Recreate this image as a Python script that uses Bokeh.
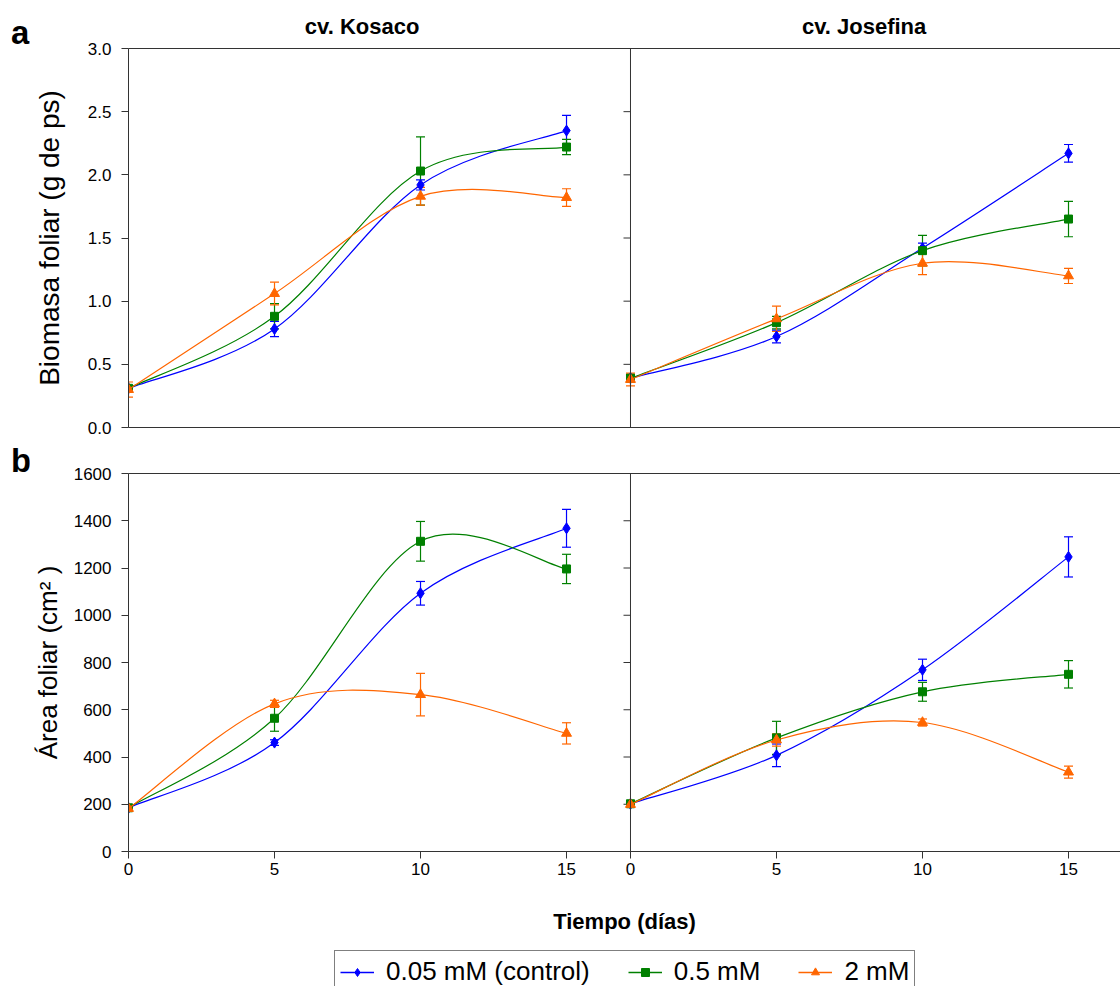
import math
from bokeh.plotting import figure
from bokeh.layouts import column, row
from bokeh.models import (Range1d, LinearAxis, FixedTicker, Span, Whisker, TeeHead, Div,
                          ColumnDataSource, Legend, LegendItem, PrintfTickFormatter)
from bokeh.embed import file_html
from bokeh.resources import INLINE

# ---- data -------------------------------------------------------------
days = [0, 5, 10, 15]
series_labels = ["0.05 mM (control)", "0.5 mM", "2 mM"]
panel_titles = ["cv. Kosaco", "cv. Josefina"]

# leaf biomass (g dry weight), cv. Kosaco
bio_kos_005 = [0.31, 0.78, 1.92, 2.35]
bio_kos_005_err = [0.02, 0.06, 0.04, 0.12]
bio_kos_05 = [0.31, 0.88, 2.03, 2.22]
bio_kos_05_err = [0.02, 0.10, 0.27, 0.06]
bio_kos_2 = [0.30, 1.06, 1.83, 1.82]
bio_kos_2_err = [0.06, 0.09, 0.07, 0.07]

# leaf biomass (g dry weight), cv. Josefina
bio_jos_005 = [0.39, 0.72, 1.42, 2.17]
bio_jos_005_err = [0.02, 0.05, 0.04, 0.07]
bio_jos_05 = [0.39, 0.83, 1.40, 1.65]
bio_jos_05_err = [0.03, 0.05, 0.12, 0.14]
bio_jos_2 = [0.38, 0.86, 1.30, 1.20]
bio_jos_2_err = [0.05, 0.10, 0.09, 0.06]

# leaf area (cm2), cv. Kosaco
area_kos_005 = [185, 461, 1093, 1368]
area_kos_005_err = [8, 12, 50, 80]
area_kos_05 = [185, 564, 1313, 1196]
area_kos_05_err = [8, 55, 84, 62]
area_kos_2 = [182, 625, 664, 500]
area_kos_2_err = [10, 15, 90, 45]

# leaf area (cm2), cv. Josefina
area_jos_005 = [202, 407, 769, 1247]
area_jos_005_err = [5, 48, 45, 85]
area_jos_05 = [202, 481, 676, 750]
area_jos_05_err = [5, 70, 40, 58]
area_jos_2 = [199, 472, 546, 336]
area_jos_2_err = [8, 26, 15, 25]

bio_ticks = [0.0, 0.5, 1.0, 1.5, 2.0, 2.5, 3.0]
area_ticks = [0, 200, 400, 600, 800, 1000, 1200, 1400, 1600]

# ---- styling / geometry ----------------------------------------------
FONT = "Liberation Sans"
COLORS = ["#0000FF", "#008000", "#FF6600"]
MARKERS = [("diamond", 11), ("square", 8), ("triangle", 10)]
AXIS_COLOR = "#333333"

PAGE_W = 1120
GUTTER = 29                # strip on the left holding the panel letters
W = PAGE_W - GUTTER        # width of the chart figures
FRAME_X = 126              # page x of the frames' left edge
LEFT = FRAME_X - GUTTER    # same, inside a figure
DAY_PX = 146.3 / 5         # pixels per day on the time axis
X_END = (W - LEFT) / DAY_PX
PANEL = 503 / DAY_PX       # width of one cultivar panel, in days
TITLE_X = 8.0              # centre of the cultivar names, in days


def smooth_segments(xs, ys):
    """Cubic Bezier pieces through the points (Catmull-Rom style tangents)."""
    n = len(xs)
    px = [xs[0]] + list(xs) + [xs[-1]]
    py = [ys[0]] + list(ys) + [ys[-1]]
    out = dict(x0=[], y0=[], x1=[], y1=[], cx0=[], cy0=[], cx1=[], cy1=[])
    for i in range(n - 1):
        p0x, p0y = px[i], py[i]
        p1x, p1y = px[i + 1], py[i + 1]
        p2x, p2y = px[i + 2], py[i + 2]
        p3x, p3y = px[i + 3], py[i + 3]
        out["x0"].append(p1x); out["y0"].append(p1y)
        out["x1"].append(p2x); out["y1"].append(p2y)
        out["cx0"].append(p1x + (p2x - p0x) / 6.0)
        out["cy0"].append(p1y + (p2y - p0y) / 6.0)
        out["cx1"].append(p2x - (p3x - p1x) / 6.0)
        out["cy1"].append(p2y - (p3y - p1y) / 6.0)
    return out


def draw_series(p, ys, errs, k, range_name):
    color = COLORS[k]
    marker, size = MARKERS[k]
    seg = ColumnDataSource(smooth_segments(days, ys))
    p.bezier(x0="x0", y0="y0", x1="x1", y1="y1", cx0="cx0", cy0="cy0",
             cx1="cx1", cy1="cy1", source=seg, line_color=color,
             line_width=1.2, x_range_name=range_name)
    esrc = ColumnDataSource(dict(x=days,
                                 upper=[y + e for y, e in zip(ys, errs)],
                                 lower=[y - e for y, e in zip(ys, errs)]))
    p.add_layout(Whisker(source=esrc, base="x", upper="upper", lower="lower",
                         line_color=color, line_width=1.2,
                         upper_head=TeeHead(size=9, line_color=color, line_width=1.2),
                         lower_head=TeeHead(size=9, line_color=color, line_width=1.2),
                         x_range_name=range_name))
    p.scatter(days, ys, marker=marker, size=size, fill_color=color,
              line_color=color, x_range_name=range_name)


def bare_axis(ax):
    ax.ticker = FixedTicker(ticks=[])
    ax.axis_line_color = AXIS_COLOR
    ax.major_tick_out = 0
    ax.major_tick_in = 0
    ax.minor_tick_out = 0
    ax.minor_tick_in = 0
    ax.major_label_text_font_size = "0px"


def make_panel_row(height, top, bottom, y_max, y_ticks, y_fmt, y_title,
                   title_size, title_standoff):
    p = figure(width=W, height=height, x_range=Range1d(0, X_END),
               y_range=Range1d(0, y_max), output_backend="svg",
               toolbar_location=None, min_border_left=LEFT, min_border_right=0,
               min_border_top=top, min_border_bottom=bottom)
    p.extra_x_ranges = {"jos": Range1d(-PANEL, X_END - PANEL)}
    p.outline_line_color = None
    p.xgrid.visible = False
    p.ygrid.visible = False
    p.background_fill_color = "white"
    p.border_fill_color = "white"

    ya = p.left[0]
    ya.ticker = FixedTicker(ticks=y_ticks)
    if y_fmt:
        ya.formatter = PrintfTickFormatter(format=y_fmt)
    ya.major_tick_out = 7
    ya.major_tick_in = 0
    ya.minor_tick_out = 0
    ya.minor_tick_in = 0
    ya.major_label_standoff = 10
    ya.major_label_text_font = FONT
    ya.major_label_text_font_size = "17px"
    ya.major_label_text_color = "black"
    ya.axis_line_color = AXIS_COLOR
    ya.major_tick_line_color = AXIS_COLOR
    ya.axis_label = y_title
    ya.axis_label_text_font = FONT
    ya.axis_label_text_font_size = title_size
    ya.axis_label_text_font_style = "normal"
    ya.axis_label_text_color = "black"
    ya.axis_label_standoff = title_standoff

    top_axis = LinearAxis()
    bare_axis(top_axis)
    p.add_layout(top_axis, "above")

    # boundary between cultivars, ticks pointing into the left panel
    p.add_layout(Span(location=0, dimension="height", x_range_name="jos",
                      line_color=AXIS_COLOR, line_width=1))
    inner = y_ticks[1:-1]
    p.segment(x0=[-7 / DAY_PX] * len(inner), x1=[0] * len(inner), y0=inner, y1=inner,
              x_range_name="jos", line_color=AXIS_COLOR, line_width=1)
    return p, p.below[0], top_axis


# ---- leaf biomass --------------------------------------------------------
p_top, xa, top_axis = make_panel_row(450, 48, 23, 3.0, bio_ticks, "%.1f",
                                     "Biomasa foliar (g de ps)", "28px", 20)
bare_axis(xa)

# cultivar names sit on the upper frame line
name_ticks = [TITLE_X, PANEL + TITLE_X]
top_axis.ticker = FixedTicker(ticks=name_ticks)
top_axis.major_label_overrides = {t: s for t, s in zip(name_ticks, panel_titles)}
top_axis.major_label_text_font_size = "22px"
top_axis.major_label_text_font = FONT
top_axis.major_label_text_font_style = "bold"
top_axis.major_label_text_color = "black"
top_axis.major_label_standoff = 10

top_sets = [
    ("default", [(bio_kos_005, bio_kos_005_err), (bio_kos_05, bio_kos_05_err), (bio_kos_2, bio_kos_2_err)]),
    ("jos", [(bio_jos_005, bio_jos_005_err), (bio_jos_05, bio_jos_05_err), (bio_jos_2, bio_jos_2_err)]),
]
for rname, sets in top_sets:
    for k, (ys, es) in enumerate(sets):
        draw_series(p_top, ys, es, k, rname)

# ---- leaf area ----------------------------------------------------------
p_bot, xb, _ = make_panel_row(490, 23, 89, 1600, area_ticks, None,
                              "Área foliar (cm² )", "26px", 8)
tick_pos = list(days) + [PANEL + d for d in days]
xb.ticker = FixedTicker(ticks=tick_pos)
xb.major_label_overrides = {t: str(d) for t, d in zip(tick_pos, days + days)}
xb.major_tick_out = 7
xb.major_tick_in = 0
xb.minor_tick_out = 0
xb.minor_tick_in = 0
xb.major_label_standoff = 4
xb.major_label_text_font = FONT
xb.major_label_text_font_size = "17px"
xb.major_label_text_color = "black"
xb.axis_line_color = AXIS_COLOR
xb.major_tick_line_color = AXIS_COLOR
xb.axis_label = "Tiempo (días)"
xb.axis_label_text_font = FONT
xb.axis_label_text_font_size = "22px"
xb.axis_label_text_font_style = "bold"
xb.axis_label_text_color = "black"
xb.axis_label_standoff = 31

bot_sets = [
    ("default", [(area_kos_005, area_kos_005_err), (area_kos_05, area_kos_05_err), (area_kos_2, area_kos_2_err)]),
    ("jos", [(area_jos_005, area_jos_005_err), (area_jos_05, area_jos_05_err), (area_jos_2, area_jos_2_err)]),
]
for rname, sets in bot_sets:
    for k, (ys, es) in enumerate(sets):
        draw_series(p_bot, ys, es, k, rname)

# ---- legend strip ---------------------------------------------------------
LEG_H = 46
p_leg = figure(width=W, height=LEG_H, x_range=Range1d(0, 1), y_range=Range1d(0, 1),
               output_backend="svg", toolbar_location=None, min_border=0,
               min_border_left=LEFT, min_border_right=0)
p_leg.axis.visible = False
p_leg.grid.visible = False
p_leg.outline_line_color = None
NA = [math.nan]
items = []
for k, lab in enumerate(series_labels):
    marker, size = MARKERS[k]
    # key-only renderers: nothing to draw in the strip itself
    ln = p_leg.line(x=NA * 2, y=NA * 2, line_color=COLORS[k], line_width=1.5)
    mk = p_leg.scatter(x=NA, y=NA, marker=marker, size=size - 1,
                       fill_color=COLORS[k], line_color=COLORS[k])
    items.append(LegendItem(label=lab, renderers=[ln, mk]))
legend = Legend(items=items, orientation="horizontal", location=(332 - FRAME_X, -7),
                border_line_color="black", border_line_width=1,
                background_fill_color="white", background_fill_alpha=1,
                label_text_font=FONT, label_text_font_size="26px",
                label_text_color="black",
                glyph_width=34, glyph_height=20, label_standoff=12,
                spacing=38, padding=5, margin=0)
p_leg.add_layout(legend)

# ---- panel letters ------------------------------------------------------------
def letter(text, height, pad_top):
    return Div(text=text, width=GUTTER, height=height, margin=0,
               styles={"font-family": FONT, "font-size": "33px", "font-weight": "bold",
                       "line-height": "33px", "padding-left": "11px",
                       "padding-top": f"{pad_top}px", "color": "black",
                       "box-sizing": "border-box", "overflow": "visible"})


letters = column(letter("a", 440, 16), letter("b", 546, 4), spacing=0)
charts = column(p_top, p_bot, p_leg, spacing=0)
layout = row(letters, charts, spacing=0)
open("out.html", "w").write(file_html(layout, INLINE))
